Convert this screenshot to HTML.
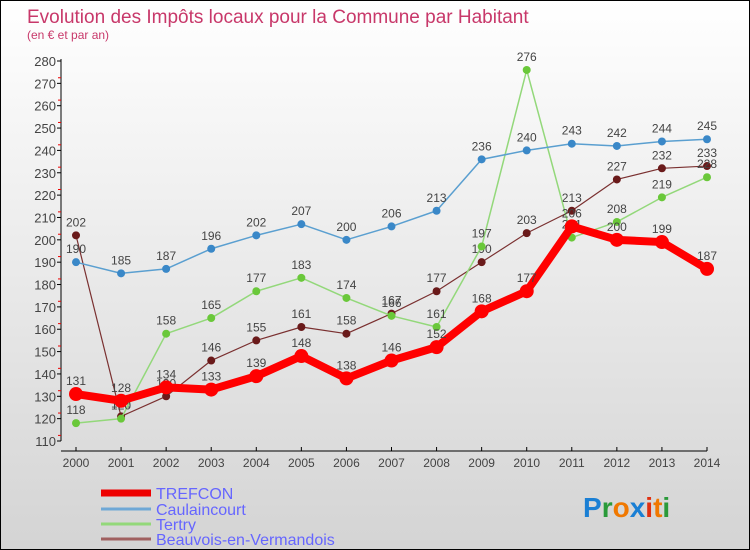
<!DOCTYPE html>
<html><head><meta charset="utf-8"><style>
body{margin:0}
#wrap{position:relative;width:748px;height:548px;border:1px solid #000;background:linear-gradient(#fff,#d4d4d4);overflow:hidden;font-family:"Liberation Sans",sans-serif}
</style></head><body>
<div id="wrap">
<svg id="svg" width="748" height="548" style="position:absolute;left:0;top:0">
<text x="26" y="22" font-size="19" fill="#c8386a">Evolution des Impôts locaux pour la Commune par Habitant</text>
<text x="26" y="38" font-size="12" fill="#c8386a">(en € et par an)</text>
<g id="axes"></g><g id="series"></g>
<g>
<line x1="100" y1="492" x2="150" y2="492" stroke="#e00" stroke-width="7"/>
<text x="155" y="498" font-size="16" fill="#66f">TREFCON</text>
<line x1="100" y1="508" x2="150" y2="508" stroke="#6fa8d6" stroke-width="3"/>
<text x="155" y="514" font-size="16" fill="#66f">Caulaincourt</text>
<line x1="100" y1="523" x2="150" y2="523" stroke="#93d87a" stroke-width="3"/>
<text x="155" y="529" font-size="16" fill="#66f">Tertry</text>
<line x1="100" y1="538" x2="150" y2="538" stroke="#a06060" stroke-width="3"/>
<text x="155" y="544" font-size="16" fill="#66f">Beauvois-en-Vermandois</text>
</g>
<text x="582" y="516" font-size="28" font-weight="bold"><tspan fill="#1a7fd4">P</tspan><tspan fill="#2a9a3a">r</tspan><tspan fill="#f07800">o</tspan><tspan fill="#1a7fd4">x</tspan><tspan fill="#e03010">i</tspan><tspan fill="#f07800">t</tspan><tspan fill="#2a9a3a">i</tspan></text>
</svg>
</div>
<script>
const years=[2000,2001,2002,2003,2004,2005,2006,2007,2008,2009,2010,2011,2012,2013,2014];
const trefcon=[131,128,134,133,139,148,138,146,152,168,177,206,200,199,187];
const caulaincourt=[190,185,187,196,202,207,200,206,213,236,240,243,242,244,245];
const tertry=[118,120,158,165,177,183,174,166,161,197,276,201,208,219,228];
const beauvois=[202,121,130,146,155,161,158,167,177,190,203,213,227,232,233];
const yTicks=[110,120,130,140,150,160,170,180,190,200,210,220,230,240,250,260,270,280];
const NS="http://www.w3.org/2000/svg";
const xs=i=>75+i*(631/14);
const ys=v=>440-(v-110)*(380/170);
function mk(t,a,p){const e=document.createElementNS(NS,t);for(const k in a)e.setAttribute(k,a[k]);p.appendChild(e);return e;}
const ax=document.getElementById('axes');
let l=mk('line',{x1:60,y1:ys(280)-2,x2:60,y2:440,stroke:'#000'},ax);


l=mk('line',{x1:60,y1:450,x2:706,y2:450,stroke:'#000'},ax);


yTicks.forEach(v=>{
 const y=ys(v);
 mk('line',{x1:56,y1:y,x2:60,y2:y,stroke:'#000'},ax);
 if(v<280)mk('line',{x1:57,y1:y-5.6,x2:60,y2:y-5.6,stroke:'#e00'},ax);
 const t=mk('text',{x:55,y:y+5,'font-size':13,fill:'#444','text-anchor':'end'},ax);t.textContent=v;
 
 
});
years.forEach((yr,i)=>{
 const x=xs(i);
 mk('line',{x1:x,y1:446,x2:x,y2:450,stroke:'#000'},ax);
 const t=mk('text',{x:x,y:466,'font-size':12,fill:'#444','text-anchor':'middle'},ax);t.textContent=yr;
 
 
});
const sg=document.getElementById('series');
function draw(data,name,color,w,r,dot){
 const g=mk('g',{},sg);
 
 
 const p=mk('polyline',{points:data.map((v,i)=>xs(i)+','+ys(v)).join(' '),fill:'none',stroke:color,'stroke-width':w,'stroke-linejoin':'round'},g);
 
 
 data.forEach((v,i)=>{
  const c=mk('circle',{cx:xs(i),cy:ys(v),r:r,fill:dot},g);
  
  
  const t=mk('text',{x:xs(i),y:ys(v)-9,'font-size':12,fill:'#444','text-anchor':'middle'},g);t.textContent=v;
  
  
 });
}
draw(beauvois,'beauvois','#7a3030',1.2,4,'#6a1a1a');
draw(tertry,'tertry','#93d87a',1.5,4,'#6ac83a');
draw(caulaincourt,'caulaincourt','#5a9fd0',1.5,4,'#3a88c8');
draw(trefcon,'trefcon','#f00',8,7,'#f00');
</script>
</body></html>
